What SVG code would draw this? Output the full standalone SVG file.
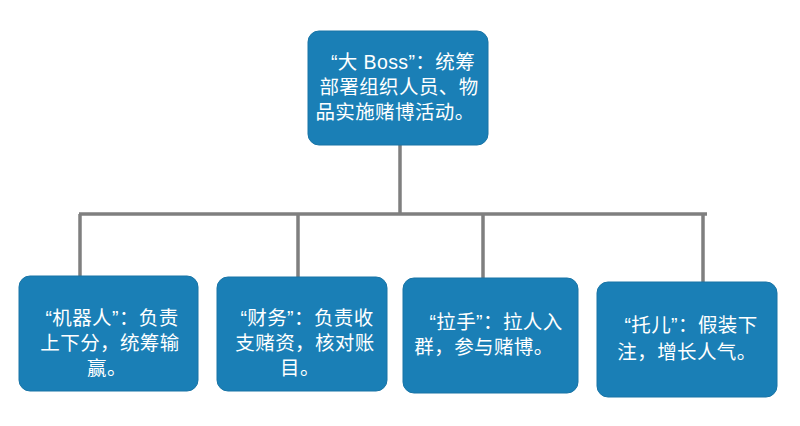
<svg xmlns="http://www.w3.org/2000/svg" width="800" height="426" viewBox="0 0 800 426">
<style>
.box{fill:#1a7fb6;stroke:#1874a6;stroke-width:1}
.t{font-family:"Liberation Sans","Noto Sans CJK SC",sans-serif;font-size:19.5px;letter-spacing:0.4px;fill:#ffffff;text-anchor:middle}
.c{stroke:#7f7f7f;stroke-width:3.5;fill:none}
</style>
<rect width="800" height="426" fill="#ffffff"/>
<g id="connectors">
<path class="c" d="M400 145 V214"/>
<path class="c" d="M79 214 H707"/>
<path class="c" d="M80 214 V276"/>
<path class="c" d="M298 214 V277"/>
<path class="c" d="M483 214 V278"/>
<path class="c" d="M703 214 V282"/>
</g>
<g id="boss">
<rect class="box" x="308" y="31" width="180" height="114" rx="11"/>
<text class="t" x="403" y="69">“大 Boss”：统筹</text>
<text class="t" x="399" y="94">部署组织人员、物</text>
<text class="t" x="395" y="119">品实施赌博活动。</text>
</g>
<g id="robot">
<rect class="box" x="19" y="276" width="179" height="115" rx="11"/>
<text class="t" x="112" y="325">“机器人”：负责</text>
<text class="t" x="110" y="350">上下分，统筹输</text>
<text class="t" x="107" y="375">赢。</text>
</g>
<g id="finance">
<rect class="box" x="217" y="277" width="170" height="114" rx="11"/>
<text class="t" x="307" y="325">“财务”：负责收</text>
<text class="t" x="305" y="350">支赌资，核对账</text>
<text class="t" x="300" y="375">目。</text>
</g>
<g id="recruiter">
<rect class="box" x="403" y="278" width="175" height="115" rx="11"/>
<text class="t" x="496" y="329">“拉手”：拉人入</text>
<text class="t" x="484" y="354">群，参与赌博。</text>
</g>
<g id="shill">
<rect class="box" x="597" y="282" width="180" height="115" rx="11"/>
<text class="t" x="691" y="332">“托儿”：假装下</text>
<text class="t" x="687" y="359">注，增长人气。</text>
</g>
</svg>
